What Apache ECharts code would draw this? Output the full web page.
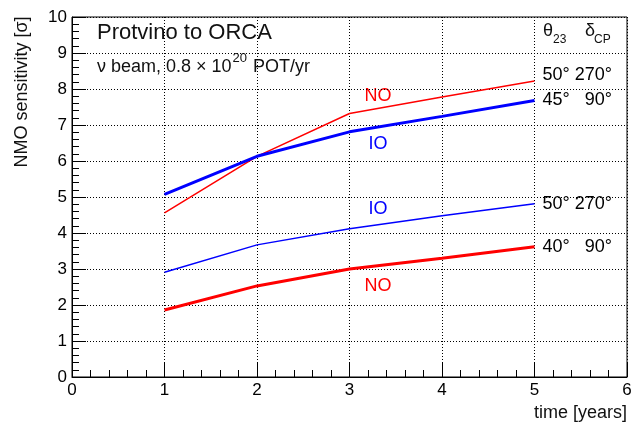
<!DOCTYPE html>
<html><head><meta charset="utf-8">
<script src="https://cdn.jsdelivr.net/npm/echarts@6/dist/echarts.min.js"></script>
<style>html,body{margin:0;padding:0;background:#fff}#c{width:644px;height:430px}</style>
</head><body><div id="c"></div>
<script>
// ---- data ----
const years = [1, 2, 3, 4, 5];
const noHigh = [4.56, 6.13, 7.32, 7.78, 8.22];  // NO, θ23=50°, δCP=270° (thin red)
const ioHigh = [5.07, 6.13, 6.81, 7.24, 7.68];  // IO, θ23=45°, δCP=90°  (thick blue)
const ioLow  = [2.91, 3.67, 4.12, 4.48, 4.81];  // IO, θ23=50°, δCP=270° (thin blue)
const noLow  = [1.86, 2.53, 3.00, 3.30, 3.62];  // NO, θ23=40°, δCP=90°  (thick red)
const endLabels = ['50° 270°', '45°   90°', '50° 270°', '40°   90°'];
const curveLabels = ['NO', 'IO', 'IO', 'NO'];
const xRange = [0, 6];
const yRange = [0, 10];

const FONT = 'Liberation Sans';
const chart = echarts.init(document.getElementById('c'), null, {renderer: 'canvas'});

function mk(arr) { return years.map((x, i) => [x, arr[i]]); }
function series(name, arr, color, width, label, offs) {
  return {
    name: name, type: 'line', data: mk(arr), symbol: 'none', silent: true,
    lineStyle: {color: color, width: width}, itemStyle: {color: color},
    endLabel: {show: true, formatter: () => label, color: '#000', fontFamily: FONT,
      fontSize: 18, distance: 8, offset: offs || [0, 0]},
    animation: false
  };
}

const axisCommon = {
  axisLine: {show: true, lineStyle: {color: '#000', width: 1}},
  axisTick: {show: true, inside: true, length: 14, lineStyle: {color: '#000'}},
  minorTick: {show: true, splitNumber: 5, length: 7, lineStyle: {color: '#000'}},
  splitLine: {show: true, lineStyle: {color: '#000', type: [1, 2], width: 1}},
  axisLabel: {color: '#000', fontFamily: FONT, fontSize: 17, margin: 5}
};

chart.setOption({
  animation: false,
  backgroundColor: '#fff',
  grid: {left: 72, right: 17, top: 17, bottom: 53, show: true, borderColor: '#000', borderWidth: 1, containLabel: false},
  xAxis: Object.assign({type: 'value', min: xRange[0], max: xRange[1], interval: 1}, axisCommon),
  yAxis: Object.assign({type: 'value', min: yRange[0], max: yRange[1], interval: 1}, axisCommon),
  series: [
    series('NO 50 270', noHigh, '#ff0000', 1.5, endLabels[0], [0, -6]),
    series('IO 45 90', ioHigh, '#0000ff', 3, endLabels[1]),
    series('IO 50 270', ioLow, '#0000ff', 1.5, endLabels[2]),
    series('NO 40 90', noLow, '#ff0000', 3, endLabels[3])
  ],
  graphic: [
    {type: 'text', left: 97, top: 22, style: {text: 'Protvino to ORCA', font: '22px "' + FONT + '"', fill: '#111'}},
    {type: 'text', left: 97, top: 52, style: {
      text: '{a|ν beam, 0.8 × 10}{s|20}{a| POT/yr}',
      rich: {
        a: {fontFamily: FONT, fontSize: 18, lineHeight: 24, verticalAlign: 'bottom', fill: '#111', color: '#111'},
        s: {fontFamily: FONT, fontSize: 13, lineHeight: 14, verticalAlign: 'top', fill: '#111', color: '#111', padding: [0, 1, 0, 1]}
      }
    }},
    {type: 'text', left: 543, top: 22, style: {text: 'θ', font: '18px "' + FONT + '"', fill: '#111'}},
    {type: 'text', left: 553, top: 34, style: {text: '23', font: '12px "' + FONT + '"', fill: '#111'}},
    {type: 'text', left: 585, top: 22, style: {text: 'δ', font: '18px "' + FONT + '"', fill: '#111'}},
    {type: 'text', left: 594, top: 34, style: {text: 'CP', font: '12px "' + FONT + '"', fill: '#111'}},
    {type: 'text', x: 378, y: 96, style: {text: curveLabels[0], font: '18px "' + FONT + '"', fill: '#ff0000', align: 'center', verticalAlign: 'middle'}},
    {type: 'text', x: 378, y: 144, style: {text: curveLabels[1], font: '18px "' + FONT + '"', fill: '#0000ff', align: 'center', verticalAlign: 'middle'}},
    {type: 'text', x: 378, y: 209, style: {text: curveLabels[2], font: '18px "' + FONT + '"', fill: '#0000ff', align: 'center', verticalAlign: 'middle'}},
    {type: 'text', x: 378, y: 286, style: {text: curveLabels[3], font: '18px "' + FONT + '"', fill: '#ff0000', align: 'center', verticalAlign: 'middle'}},
    {type: 'text', x: 627, y: 413, style: {text: 'time [years]', font: '18px "' + FONT + '"', fill: '#111', align: 'right', verticalAlign: 'middle'}},
    {type: 'text', x: 22, y: 92, rotation: Math.PI / 2, style: {text: 'NMO sensitivity [σ]', font: '18px "' + FONT + '"', fill: '#111', align: 'center', verticalAlign: 'middle'}}
  ]
});
</script>
</body></html>
